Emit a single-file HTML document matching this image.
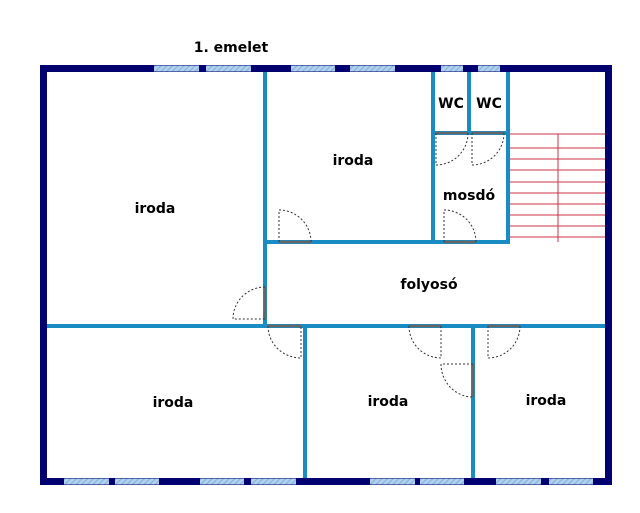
<!DOCTYPE html>
<html><head><meta charset="utf-8"><style>
html,body{margin:0;padding:0;background:#fff;width:640px;height:513px;overflow:hidden}
svg{display:block}
text{font-family:"DejaVu Sans","Liberation Sans",sans-serif;font-weight:bold;font-size:14px;fill:#000;text-anchor:middle}
</style></head><body>
<svg width="640" height="513" viewBox="0 0 640 513" xmlns="http://www.w3.org/2000/svg">
<defs>
<pattern id="h" width="4" height="4" patternUnits="userSpaceOnUse" patternTransform="rotate(45)">
<rect width="4" height="4" fill="#b0d0ec"/><line x1="0" y1="0" x2="0" y2="4" stroke="#6fa6d8" stroke-width="1.5"/>
</pattern>
</defs>
<g stroke="#cc3344" stroke-width="1">
<line x1="508" y1="134" x2="605" y2="134"/><line x1="508" y1="148" x2="605" y2="148"/>
<line x1="508" y1="159" x2="605" y2="159"/><line x1="508" y1="170" x2="605" y2="170"/>
<line x1="508" y1="182" x2="605" y2="182"/><line x1="508" y1="193" x2="605" y2="193"/>
<line x1="508" y1="204" x2="605" y2="204"/><line x1="508" y1="215" x2="605" y2="215"/>
<line x1="508" y1="226" x2="605" y2="226"/><line x1="508" y1="237" x2="605" y2="237"/>
<line x1="558" y1="134" x2="558" y2="242"/>
</g>
<g stroke="#1a8cc4" stroke-width="4" fill="none">
<line x1="265" y1="70" x2="265" y2="327"/>
<line x1="433" y1="70" x2="433" y2="244"/>
<line x1="469" y1="70" x2="469" y2="134"/>
<line x1="508" y1="70" x2="508" y2="244"/>
<line x1="433" y1="133" x2="508" y2="133"/>
<line x1="265" y1="242" x2="508" y2="242"/>
<line x1="44" y1="326" x2="608" y2="326"/>
<line x1="305" y1="326" x2="305" y2="480"/>
<line x1="473" y1="326" x2="473" y2="480"/>
</g>
<g stroke="#666" stroke-width="2.5">
<line x1="279" y1="242" x2="311" y2="242"/>
<line x1="444" y1="242" x2="476" y2="242"/>
<line x1="436" y1="133" x2="468" y2="133"/>
<line x1="472" y1="133" x2="504" y2="133"/>
<line x1="265" y1="287" x2="265" y2="319"/>
<line x1="268" y1="326" x2="301" y2="326"/>
<line x1="409" y1="326" x2="441" y2="326"/>
<line x1="488" y1="326" x2="520" y2="326"/>
<line x1="473" y1="364" x2="473" y2="397"/>
</g>
<g stroke="#333" stroke-width="1" stroke-dasharray="2,2" fill="none">
<path d="M279 242 V210 A32 32 0 0 1 311 242"/>
<path d="M444 242 V210 A32 32 0 0 1 476 242"/>
<path d="M436 133 V165 A32 32 0 0 0 468 133"/>
<path d="M472 133 V165 A32 32 0 0 0 504 133"/>
<path d="M265 287 A32 32 0 0 0 233 319 H265"/>
<path d="M268 326 A33 32 0 0 0 301 358 V326"/>
<path d="M409 326 A32 32 0 0 0 441 358 V326"/>
<path d="M520 326 A32 32 0 0 1 488 358 V326"/>
<path d="M473 364 H441 A32 33 0 0 0 473 397"/>
</g>
<rect x="43.5" y="68.5" width="565" height="413" fill="none" stroke="#000070" stroke-width="7"/>
<g fill="url(#h)">
<rect x="154" y="65.5" width="45" height="6"/><rect x="206" y="65.5" width="45" height="6"/>
<rect x="291" y="65.5" width="44" height="6"/><rect x="350" y="65.5" width="45" height="6"/>
<rect x="441" y="65.5" width="22" height="6"/><rect x="478" y="65.5" width="22" height="6"/>
<rect x="64" y="478.5" width="45" height="6"/><rect x="115" y="478.5" width="44" height="6"/>
<rect x="200" y="478.5" width="44" height="6"/><rect x="251" y="478.5" width="45" height="6"/>
<rect x="370" y="478.5" width="45" height="6"/><rect x="420" y="478.5" width="44" height="6"/>
<rect x="496" y="478.5" width="45" height="6"/><rect x="549" y="478.5" width="44" height="6"/>
</g>
<text x="231" y="52">1. emelet</text>
<text x="155" y="213">iroda</text>
<text x="353" y="165">iroda</text>
<text x="451" y="108">WC</text>
<text x="489" y="108">WC</text>
<text x="469" y="200">mosdó</text>
<text x="429" y="289">folyosó</text>
<text x="173" y="407">iroda</text>
<text x="388" y="406">iroda</text>
<text x="546" y="405">iroda</text>
</svg>
</body></html>
